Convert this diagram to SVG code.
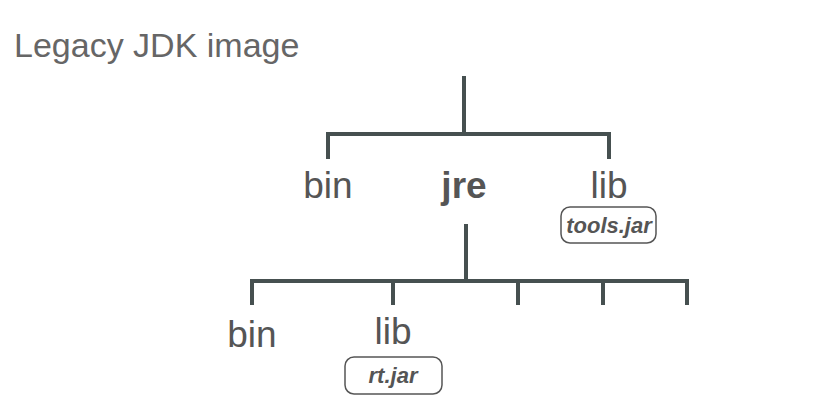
<svg xmlns="http://www.w3.org/2000/svg" width="834" height="416" viewBox="0 0 834 416">
<style>
.ln{stroke:#465050;stroke-width:4;fill:none;stroke-linecap:butt}
.lbl{font-family:"Liberation Sans",Arial,sans-serif;font-size:37px;fill:#555;text-anchor:middle}
.bold{font-weight:bold}
.jar{font-family:"Liberation Sans",Arial,sans-serif;font-size:22px;font-weight:bold;font-style:italic;fill:#555;text-anchor:middle}
.box{fill:#fff;stroke:#555;stroke-width:1.5}
</style>
<rect width="834" height="416" fill="#fff"/>
<text x="14" y="57" font-family="Liberation Sans, Arial, sans-serif" font-size="34" fill="#666">Legacy JDK image</text>
<g id="connectors">
<path class="ln" d="M464 76V134M328 159V134H609V159"/>
<path class="ln" d="M466 224V281M252 305V281H687V305M393 281V305M518 281V305M603 281V305"/>
</g>
<g id="bin1"><text class="lbl" x="328" y="198">bin</text></g>
<g id="jre"><text class="lbl bold" x="464" y="198" font-size="43">jre</text></g>
<g id="lib1"><text class="lbl" x="609" y="198">lib</text>
<rect class="box" x="561" y="207" width="95" height="36" rx="9"/>
<text class="jar" x="609" y="233">tools.jar</text></g>
<g id="bin2"><text class="lbl" x="252" y="347">bin</text></g>
<g id="lib2"><text class="lbl" x="393" y="344">lib</text>
<rect class="box" x="345" y="357" width="97" height="37" rx="9"/>
<text class="jar" x="393" y="383">rt.jar</text></g>
</svg>
